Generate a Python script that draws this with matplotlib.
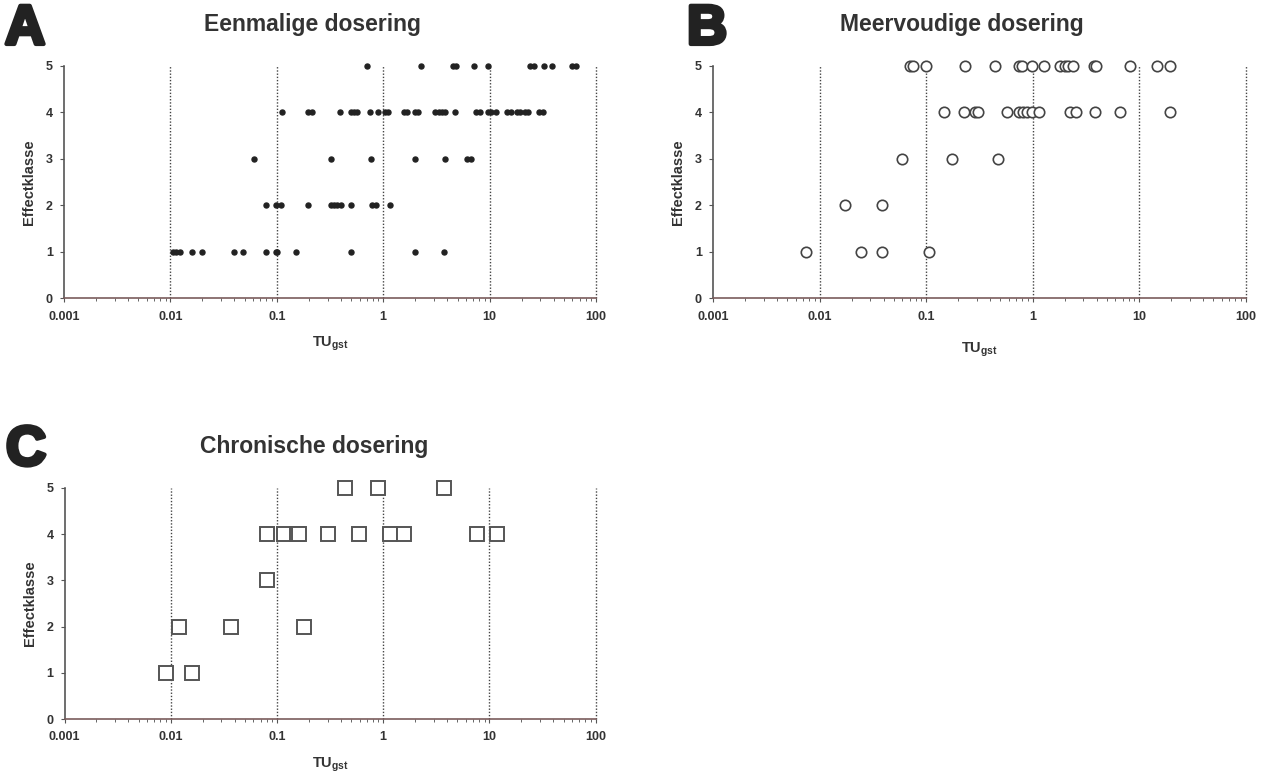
import matplotlib
matplotlib.use("Agg")
import matplotlib.pyplot as plt
import matplotlib.patheffects as pe
from matplotlib.ticker import LogLocator, NullFormatter

plt.rcParams['font.family'] = ['Liberation Sans', 'DejaVu Sans']
plt.rcParams['mathtext.fontset'] = 'custom'
plt.rcParams['mathtext.bf'] = 'Liberation Sans:bold'
plt.rcParams['mathtext.rm'] = 'Liberation Sans'

# A - Eenmalige dosering (TU_gst, effectklasse)
a_tu = [0.71, 2.28, 4.49, 4.82, 7.16, 9.75, 23.9, 26.1, 32.6, 38.7, 60, 65.5,
        0.112, 0.198, 0.216, 0.39, 0.494, 0.531, 0.57, 0.744, 0.89, 1.05, 1.11,
        1.56, 1.68, 1.98, 2.12, 3.08, 3.31, 3.56, 3.83, 4.68, 7.47, 8.14, 9.6,
        10.3, 11.5, 14.5, 15.8, 17.9, 19.3, 21.5, 23.1, 29, 31.9,
        0.061, 0.32, 0.76, 1.98, 3.77, 6.1, 6.7,
        0.079, 0.099, 0.109, 0.198, 0.32, 0.346, 0.37, 0.40, 0.494, 0.79, 0.85, 1.15,
        0.0105, 0.0114, 0.0122, 0.0158, 0.020, 0.040, 0.048, 0.080, 0.099, 0.101,
        0.151, 0.50, 1.98, 3.69]
a_klasse = [5] * 12 + [4] * 33 + [3] * 7 + [2] * 12 + [1] * 14

# B - Meervoudige dosering
b_tu = [0.0708, 0.076, 0.099, 0.232, 0.445, 0.75, 0.79, 0.98, 1.28, 1.81, 2.02,
        2.17, 2.42, 3.78, 3.95, 8.2, 14.6, 19.5,
        0.146, 0.229, 0.288, 0.31, 0.58, 0.75, 0.82, 0.89, 0.98, 1.16, 2.25, 2.56,
        3.86, 6.6, 19.5,
        0.059, 0.177, 0.477,
        0.0173, 0.0384,
        0.00747, 0.0245, 0.0384, 0.107]
b_klasse = [5] * 18 + [4] * 15 + [3] * 3 + [2] * 2 + [1] * 4

# C - Chronische dosering
c_tu = [0.44, 0.90, 3.7,
        0.080, 0.117, 0.153, 0.162, 0.30, 0.59, 1.17, 1.56, 7.6, 11.7,
        0.080,
        0.0119, 0.037, 0.18,
        0.0091, 0.0158]
c_klasse = [5] * 3 + [4] * 10 + [3] + [2] * 3 + [1] * 2

x_ticks = [0.001, 0.01, 0.1, 1, 10, 100]
x_ticklabels = ['0.001', '0.01', '0.1', '1', '10', '100']
y_ticks = [0, 1, 2, 3, 4, 5]

W, H = 1264, 777
fig = plt.figure(figsize=(W / 100, H / 100), dpi=100)


def px_axes(left, right, top, bottom):
    return fig.add_axes([left / W, 1 - bottom / H, (right - left) / W, (bottom - top) / H])


def setup(ax, xlabel_pad):
    ax.set_xscale('log')
    ax.set_xlim(0.001, 100)
    ax.set_ylim(0, 5)
    for x in x_ticks[1:]:
        ax.axvline(x, color='#444444', lw=1.0, ls=(0, (1, 1.3)), zorder=1, clip_on=False)
    ax.spines['top'].set_visible(False)
    ax.spines['right'].set_visible(False)
    ax.spines['left'].set_color('#555555')
    ax.spines['bottom'].set_color('#7a5c5c')
    ax.spines['left'].set_linewidth(1.2)
    ax.spines['bottom'].set_linewidth(1.2)
    ax.set_xticks(x_ticks)
    ax.set_xticklabels(x_ticklabels)
    ax.xaxis.set_minor_locator(LogLocator(base=10, subs=range(2, 10)))
    ax.xaxis.set_minor_formatter(NullFormatter())
    ax.set_yticks(y_ticks)
    ax.tick_params(axis='both', which='major', labelsize=9, colors='#555555',
                   labelcolor='#333333', length=3, width=0.8, pad=6)
    ax.tick_params(axis='x', which='minor', length=2.5, width=0.7, colors='#666666')
    ax.tick_params(axis='y', pad=5)
    for lab in ax.get_xticklabels() + ax.get_yticklabels():
        lab.set_fontweight('bold')
    ax.set_ylabel('Effectklasse', fontsize=10.5, fontweight='bold', color='#333333',
                  labelpad=7)
    ax.set_xlabel(r'$\mathbf{TU_{gst}}$', fontsize=10.5, color='#333333',
                  labelpad=xlabel_pad)


ax_a = px_axes(64, 596, 66, 298)
setup(ax_a, 9)
ax_a.plot(a_tu, a_klasse, 'o', ms=3.6, color='#222222', clip_on=False, zorder=3)

ax_b = px_axes(713, 1245.5, 66, 298)
setup(ax_b, 13)
ax_b.plot(b_tu, b_klasse, 'o', ms=7.5, mfc='white', mec='#444444', mew=1.2,
          clip_on=False, zorder=3)

ax_c = px_axes(64.5, 595.7, 488, 719)
setup(ax_c, 9)
ax_c.plot(c_tu, c_klasse, 's', ms=10.5, mfc='white', mec='#555555', mew=1.4,
          clip_on=False, zorder=3)

# titles and panel letters
title_kw = dict(fontsize=16.5, fontweight='bold', color='#333333', ha='center', va='center')
fig.text(313 / W, 1 - 25 / H, 'Eenmalige dosering', **title_kw)
fig.text(962 / W, 1 - 25 / H, 'Meervoudige dosering', **title_kw)
fig.text(314 / W, 1 - 447 / H, 'Chronische dosering', **title_kw)

letter_kw = dict(fontsize=40, fontweight='bold', color='#222222', ha='left', va='center',
                 path_effects=[pe.withStroke(linewidth=3, foreground='#222222')])
fig.text(5 / W, 1 - 30 / H, 'A', **letter_kw)
fig.text(687 / W, 1 - 30 / H, 'B', **letter_kw)
fig.text(6 / W, 1 - 451 / H, 'C', **letter_kw)

fig.savefig('out.png', dpi=100, facecolor='white')
